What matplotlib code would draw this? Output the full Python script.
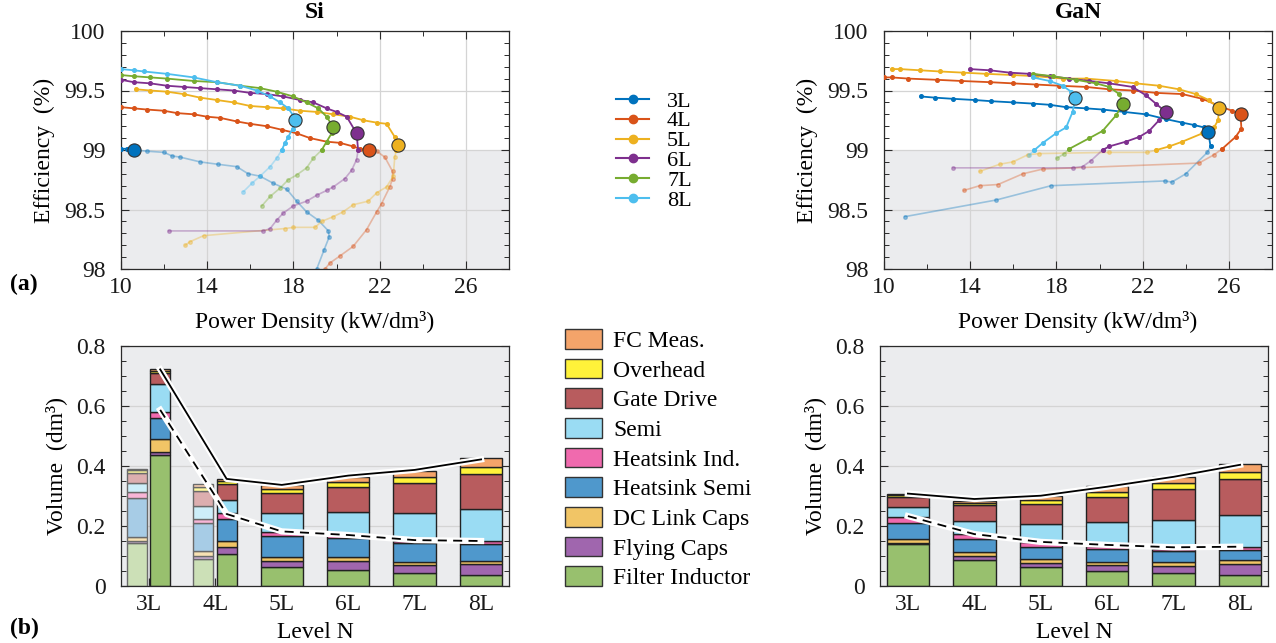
import numpy as np
import matplotlib
matplotlib.use('Agg')
import matplotlib.pyplot as plt
from matplotlib.patches import Patch
from matplotlib.lines import Line2D
import matplotlib.patheffects as pe
from matplotlib.ticker import MultipleLocator, FixedLocator

plt.rcParams['font.family'] = ['Liberation Serif', 'DejaVu Serif']
plt.rcParams['font.size'] = 17

# ---------------- data ----------------
levels = ['3L', '4L', '5L', '6L', '7L', '8L']
level_colors = ['#0072BD', '#D95319', '#EDB120', '#7E2F8E', '#77AC30', '#4DBEEE']

# Efficiency vs power density sweeps (Si)
si_x = {
    '3L': [10.0, 10.3, 10.62, 11.2, 12.0, 12.36, 12.75, 13.67, 14.5, 15.37, 15.9, 16.45, 17.07, 17.69, 18.15, 18.61, 19.15, 19.62, 19.66, 19.42, 19.08, 18.95],
    '4L': [10.0, 10.59, 11.2, 11.98, 12.6, 13.37, 13.98, 14.6, 15.37, 15.99, 16.76, 17.46, 18.15, 18.77, 19.54, 20.16, 20.77, 21.08, 21.49, 21.86, 22.24, 22.6, 22.6, 22.47, 22.09, 21.86, 21.39, 20.77, 20.16, 19.69, 19.46, 19.3],
    '5L': [10.69, 11.36, 12.13, 12.9, 13.67, 14.45, 15.22, 15.99, 16.76, 17.53, 18.3, 19.08, 19.85, 20.62, 21.24, 21.86, 22.32, 22.7, 22.83, 22.78, 22.7, 22.63, 22.32, 21.86, 21.47, 20.77, 20.3, 19.85, 19.31, 19.0, 18.0, 17.6, 13.83, 13.21, 12.98],
    '6L': [10.0, 10.59, 11.36, 12.13, 12.9, 13.67, 14.45, 15.22, 15.99, 16.76, 17.53, 18.3, 18.92, 19.54, 20.0, 20.47, 20.93, 21.0, 20.93, 20.7, 20.39, 19.85, 19.54, 19.08, 18.61, 17.99, 17.53, 17.22, 16.92, 16.61, 12.21],
    '7L': [10.0, 10.59, 11.36, 12.13, 13.37, 14.45, 15.53, 16.45, 17.22, 17.99, 18.61, 19.15, 19.54, 19.85, 19.77, 19.54, 19.31, 18.92, 18.61, 18.15, 17.76, 17.38, 16.92, 16.53],
    '8L': [10.0, 10.59, 11.05, 12.13, 13.37, 14.45, 15.53, 16.3, 16.92, 17.38, 17.76, 17.99, 18.07, 17.96, 17.76, 17.61, 17.46, 17.22, 16.92, 16.45, 16.07, 15.68],
}
si_y = {
    '3L': [99.01, 99.01, 99.0, 98.99, 98.98, 98.95, 98.94, 98.90, 98.88, 98.86, 98.80, 98.78, 98.72, 98.67, 98.57, 98.48, 98.41, 98.32, 98.27, 98.16, 98.0, 97.9],
    '4L': [99.36, 99.35, 99.34, 99.33, 99.31, 99.30, 99.28, 99.27, 99.24, 99.22, 99.20, 99.17, 99.14, 99.10, 99.07, 99.06, 99.03, 99.01, 99.0, 98.99, 98.94, 98.82, 98.76, 98.69, 98.55, 98.48, 98.33, 98.19, 98.11, 98.05, 98.0, 97.92],
    '5L': [99.51, 99.50, 99.49, 99.47, 99.44, 99.42, 99.40, 99.37, 99.36, 99.35, 99.33, 99.32, 99.30, 99.28, 99.25, 99.23, 99.22, 99.11, 99.04, 99.0, 98.94, 98.78, 98.69, 98.64, 98.57, 98.54, 98.48, 98.44, 98.40, 98.35, 98.35, 98.34, 98.28, 98.23, 98.20],
    '6L': [99.59, 99.57, 99.56, 99.54, 99.53, 99.52, 99.51, 99.50, 99.48, 99.47, 99.45, 99.42, 99.40, 99.35, 99.32, 99.28, 99.14, 99.0, 98.92, 98.83, 98.76, 98.69, 98.66, 98.62, 98.57, 98.53, 98.47, 98.41, 98.34, 98.32, 98.32],
    '7L': [99.63, 99.62, 99.61, 99.60, 99.58, 99.57, 99.54, 99.52, 99.49, 99.45, 99.40, 99.35, 99.28, 99.19, 99.14, 99.07, 99.0, 98.93, 98.85, 98.79, 98.75, 98.68, 98.61, 98.53],
    '8L': [99.68, 99.67, 99.66, 99.64, 99.61, 99.57, 99.54, 99.50, 99.45, 99.40, 99.35, 99.29, 99.25, 99.18, 99.11, 99.06, 99.0, 98.93, 98.86, 98.78, 98.72, 98.65],
}
si_opt_x = [10.62, 21.49, 22.83, 20.93, 19.85, 18.07]
si_opt_y = [99.0, 99.0, 99.04, 99.14, 99.19, 99.25]

# Efficiency vs power density sweeps (GaN)
gan_x = {
    '3L': [11.7, 12.36, 13.21, 14.21, 14.98, 15.98, 16.9, 17.68, 18.45, 19.37, 20.14, 21.14, 22.15, 23.07, 23.84, 24.38, 24.84, 25.04, 25.15, 25.0, 24.0, 23.35, 23.04, 17.75, 15.21, 10.97],
    '4L': [10.0, 10.35, 11.13, 12.44, 13.59, 14.9, 15.98, 17.06, 18.14, 19.37, 20.45, 21.53, 22.61, 23.84, 24.77, 25.69, 26.15, 26.54, 26.58, 26.31, 25.69, 25.31, 24.61, 17.37, 16.44, 15.29, 14.44, 13.7],
    '5L': [10.35, 10.74, 11.66, 12.59, 13.67, 14.75, 15.98, 17.06, 18.29, 19.37, 20.76, 21.68, 22.76, 23.69, 24.46, 25.07, 25.54, 25.5, 25.31, 24.77, 23.84, 23.23, 22.64, 22.22, 20.45, 17.21, 16.67, 15.98, 15.36, 14.44],
    '6L': [13.98, 14.9, 15.83, 16.75, 17.68, 18.6, 19.53, 20.45, 21.53, 22.15, 22.61, 23.07, 22.76, 22.3, 21.84, 21.22, 20.45, 20.14, 19.6, 19.21, 18.75, 13.2],
    '7L': [16.9, 17.83, 18.91, 19.83, 20.45, 20.91, 21.1, 20.76, 20.14, 19.53, 18.6, 18.37, 18.02],
    '8L': [16.9, 17.68, 18.29, 18.68, 18.88, 18.75, 18.45, 17.98, 17.37, 16.98, 16.75],
}
gan_y = {
    '3L': [99.45, 99.44, 99.43, 99.42, 99.41, 99.40, 99.39, 99.38, 99.36, 99.35, 99.34, 99.32, 99.30, 99.26, 99.23, 99.21, 99.19, 99.15, 99.03, 98.98, 98.80, 98.73, 98.74, 98.70, 98.58, 98.44],
    '4L': [99.61, 99.61, 99.60, 99.59, 99.58, 99.57, 99.56, 99.55, 99.54, 99.53, 99.51, 99.50, 99.48, 99.47, 99.43, 99.36, 99.33, 99.30, 99.18, 99.11, 99.01, 98.96, 98.89, 98.84, 98.80, 98.71, 98.70, 98.66],
    '5L': [99.68, 99.68, 99.67, 99.66, 99.65, 99.64, 99.63, 99.62, 99.60, 99.60, 99.58, 99.56, 99.54, 99.51, 99.47, 99.42, 99.35, 99.25, 99.19, 99.14, 99.07, 99.03, 99.0, 98.98, 98.98, 98.97, 98.96, 98.90, 98.88, 98.82],
    '6L': [99.68, 99.67, 99.65, 99.64, 99.62, 99.60, 99.58, 99.56, 99.53, 99.46, 99.39, 99.32, 99.25, 99.16, 99.11, 99.07, 99.03, 99.0, 98.91, 98.86, 98.85, 98.85],
    '7L': [99.64, 99.62, 99.59, 99.56, 99.53, 99.47, 99.39, 99.29, 99.16, 99.10, 99.01, 98.97, 98.93],
    '8L': [99.61, 99.58, 99.54, 99.49, 99.44, 99.32, 99.19, 99.14, 99.06, 99.0, 98.96],
}
gan_opt_x = [25.04, 26.54, 25.54, 23.07, 21.1, 18.88]
gan_opt_y = [99.15, 99.30, 99.35, 99.32, 99.39, 99.44]

# Volume breakdown (dm^3), bottom to top
components = ['Filter Inductor', 'Flying Caps', 'DC Link Caps', 'Heatsink Semi',
              'Heatsink Ind.', 'Semi', 'Gate Drive', 'Overhead', 'FC Meas.']
comp_colors = ['#98C06E', '#A066AE', '#F1C566', '#4F98CC', '#F06AAE',
               '#9ADCF3', '#B85C5E', '#FFF23A', '#F4A46A']

si_filter   = [0.437, 0.107, 0.064, 0.053, 0.042, 0.037]
si_flying   = [0.011, 0.022, 0.019, 0.030, 0.028, 0.035]
si_dclink   = [0.043, 0.022, 0.013, 0.013, 0.011, 0.012]
si_hs_semi  = [0.068, 0.071, 0.071, 0.063, 0.061, 0.056]
si_hs_ind   = [0.022, 0.020, 0.014, 0.011, 0.009, 0.010]
si_semi     = [0.092, 0.045, 0.061, 0.076, 0.091, 0.106]
si_gate     = [0.036, 0.053, 0.067, 0.085, 0.102, 0.117]
si_overhead = [0.007, 0.009, 0.015, 0.016, 0.020, 0.025]
si_fcmeas   = [0.006, 0.007, 0.012, 0.017, 0.020, 0.028]

# faded reference bars for Si 3L and 4L (same component order)
si_ref_3L = [0.144, 0.005, 0.013, 0.130, 0.020, 0.032, 0.034, 0.009, 0.004]
si_ref_4L = [0.090, 0.011, 0.017, 0.091, 0.013, 0.046, 0.050, 0.011, 0.010]

gan_filter   = [0.140, 0.087, 0.062, 0.049, 0.042, 0.037]
gan_flying   = [0.004, 0.013, 0.016, 0.020, 0.025, 0.035]
gan_dclink   = [0.012, 0.013, 0.011, 0.011, 0.012, 0.015]
gan_hs_semi  = [0.055, 0.045, 0.042, 0.044, 0.039, 0.033]
gan_hs_ind   = [0.020, 0.015, 0.016, 0.009, 0.005, 0.009]
gan_semi     = [0.031, 0.045, 0.059, 0.080, 0.096, 0.107]
gan_gate     = [0.034, 0.051, 0.067, 0.085, 0.103, 0.120]
gan_overhead = [0.008, 0.009, 0.014, 0.015, 0.020, 0.023]
gan_fcmeas   = [0.004, 0.004, 0.013, 0.020, 0.021, 0.027]

si_total_line  = [0.722, 0.357, 0.337, 0.368, 0.387, 0.422]
si_dash_line   = [0.587, 0.240, 0.182, 0.170, 0.153, 0.150]
gan_total_line = [0.308, 0.290, 0.301, 0.331, 0.364, 0.404]
gan_dash_line  = [0.233, 0.173, 0.147, 0.137, 0.129, 0.131]

# ---------------- figure ----------------
W, H = 1276, 643
fig = plt.figure(figsize=(W / 100, H / 100), dpi=100)

def ax_rect(l, t, r, b):
    return [l / W, 1 - b / H, (r - l) / W, (b - t) / H]

ax_si = fig.add_axes(ax_rect(121, 31, 509, 269))
ax_gan = fig.add_axes(ax_rect(884, 31, 1272, 269))
ax_bsi = fig.add_axes(ax_rect(121, 346, 509, 586))
ax_bgan = fig.add_axes(ax_rect(880, 346, 1268, 586))

SPINE = '#2a2a2a'
GRID = '#d4d4d4'
SHADE = '#ebecee'

def style_axes(ax):
    for s in ax.spines.values():
        s.set_color(SPINE)
        s.set_linewidth(0.9)
    ax.set_axisbelow(True)

def eff_panel(ax, xs, ys, opt_x, opt_y, title):
    style_axes(ax)
    ax.axhspan(98, 99, color=SHADE, zorder=0, lw=0)
    for i, lv in enumerate(levels):
        x = np.array(xs[lv]); y = np.array(ys[lv])
        c = level_colors[i]
        below = np.where(y < 99)[0]
        k = below[0] if len(below) else len(y)
        if k < len(y):
            ax.plot(x[k - 1:], y[k - 1:], color=c, alpha=0.35, lw=1.2,
                    marker='o', ms=2.6, zorder=2)
        ax.plot(x[:k], y[:k], color=c, lw=1.3, marker='o', ms=2.6, zorder=3)
        ax.plot(opt_x[i], opt_y[i], 'o', ms=9.5, mfc=c, mec='#333333',
                mew=0.8, zorder=5)
    ax.set_xlim(10, 28)
    ax.set_ylim(98, 100)
    ax.xaxis.set_major_locator(FixedLocator([10, 14, 18, 22, 26]))
    ax.xaxis.set_minor_locator(MultipleLocator(2))
    ax.yaxis.set_major_locator(MultipleLocator(0.5))
    ax.yaxis.set_minor_locator(MultipleLocator(0.1))
    ax.yaxis.set_major_formatter(plt.FuncFormatter(lambda v, p: f'{v:g}'))
    ax.tick_params(which='both', direction='in', top=True, right=True,
                   colors=SPINE, labelcolor='#1a1a1a', labelsize=17)
    ax.tick_params(which='major', length=6, width=0.8)
    ax.tick_params(axis='y', which='major', pad=11)
    ax.tick_params(axis='x', which='major', pad=6)
    ax.tick_params(which='minor', length=3.5, width=0.7)
    ax.grid(True, which='major', color=GRID, lw=0.9)
    ax.set_xlabel('Power Density (kW/dm³)', fontsize=17, labelpad=9)
    ax.set_ylabel('Efficiency  (%)', fontsize=17, labelpad=7)
    ax.set_title(title, fontsize=17, fontweight='bold', pad=9)

eff_panel(ax_si, si_x, si_y, si_opt_x, si_opt_y, 'Si')
eff_panel(ax_gan, gan_x, gan_y, gan_opt_x, gan_opt_y, 'GaN')

def fade(c, a=0.5):
    rgb = np.array(matplotlib.colors.to_rgb(c))
    return tuple(rgb * a + (1 - a))

def stacked(ax, xpos, width, heights, faded=False):
    bottom = 0.0
    for j, h in enumerate(heights):
        fc = fade(comp_colors[j]) if faded else comp_colors[j]
        ec = '#6a6a6a' if faded else '#222222'
        ax.bar(xpos, h, width, bottom=bottom, color=fc, edgecolor=ec,
               linewidth=1.0, zorder=2)
        bottom += h

def vol_panel(ax, comp_lists, total_line, dash_line, ref_bars=None):
    style_axes(ax)
    ax.set_facecolor(SHADE)
    pos = np.arange(1, len(levels) + 1)
    line_x = []
    for i in range(len(levels)):
        heights = [cl[i] for cl in comp_lists]
        if ref_bars is not None and levels[i] in ref_bars:
            stacked(ax, pos[i] - 0.18, 0.3, ref_bars[levels[i]], faded=True)
            stacked(ax, pos[i] + 0.17, 0.3, heights)
            line_x.append(pos[i] + 0.17)
        else:
            stacked(ax, pos[i], 0.64, heights)
            line_x.append(pos[i])
    ax.plot(line_x, total_line, color='black', lw=1.3, zorder=4,
            path_effects=[pe.Stroke(linewidth=4.5, foreground='white'), pe.Normal()])
    ax.plot(line_x, dash_line, color='white', lw=4.5, zorder=4)
    ax.plot(line_x, dash_line, color='black', lw=1.3, ls=(0, (5, 3.5)), zorder=5)
    ax.set_xlim(0.58, 6.42)
    ax.set_ylim(0, 0.8)
    ax.set_xticks(pos)
    ax.set_xticklabels(levels)
    ax.yaxis.set_major_locator(MultipleLocator(0.2))
    ax.yaxis.set_minor_locator(MultipleLocator(0.05))
    ax.yaxis.set_major_formatter(plt.FuncFormatter(lambda v, p: f'{v:g}'))
    ax.tick_params(axis='y', which='both', direction='in', left=True, right=True,
                   colors=SPINE, labelcolor='#1a1a1a', labelsize=17)
    ax.tick_params(axis='y', which='major', length=6, width=0.8, pad=11)
    ax.tick_params(axis='y', which='minor', length=3.5, width=0.7)
    ax.tick_params(axis='x', direction='in', length=6, width=0.9, colors=SPINE,
                   labelcolor='#1a1a1a', labelsize=17, pad=6)
    ax.grid(True, axis='y', which='major', color=GRID, lw=0.9, zorder=1)
    ax.set_xlabel('Level N', fontsize=17, labelpad=5)
    ax.set_ylabel('Volume  (dm³)', fontsize=17, labelpad=7)

vol_panel(ax_bsi, [si_filter, si_flying, si_dclink, si_hs_semi, si_hs_ind,
                   si_semi, si_gate, si_overhead, si_fcmeas],
          si_total_line, si_dash_line, ref_bars={'3L': si_ref_3L, '4L': si_ref_4L})
vol_panel(ax_bgan, [gan_filter, gan_flying, gan_dclink, gan_hs_semi, gan_hs_ind,
                    gan_semi, gan_gate, gan_overhead, gan_fcmeas],
          gan_total_line, gan_dash_line)

# line legend
line_handles = [Line2D([], [], color=c, lw=1.5, marker='o', ms=6) for c in level_colors]
fig.legend(line_handles, levels, loc='upper left', bbox_to_anchor=(616 / W, 1 - 91 / H),
           frameon=False, fontsize=16, handlelength=1.5, handletextpad=0.8,
           labelspacing=-0.03, borderpad=0, borderaxespad=0)

# component legend (top entry first)
patch_handles = [Patch(facecolor=comp_colors[j], edgecolor='#333333', lw=1.0)
                 for j in range(len(components))][::-1]
fig.legend(patch_handles, components[::-1], loc='upper left',
           bbox_to_anchor=(565 / W, 1 - 329 / H), frameon=False, fontsize=17,
           handlelength=1.55, handleheight=0.9, handletextpad=0.5,
           labelspacing=0.285, borderpad=0, borderaxespad=0)

fig.text(10 / W, 1 - 284 / H, '(a)', fontsize=17, fontweight='bold', va='center')
fig.text(10 / W, 1 - 628 / H, '(b)', fontsize=17, fontweight='bold', va='center')

fig.savefig('out.png', dpi=100)
